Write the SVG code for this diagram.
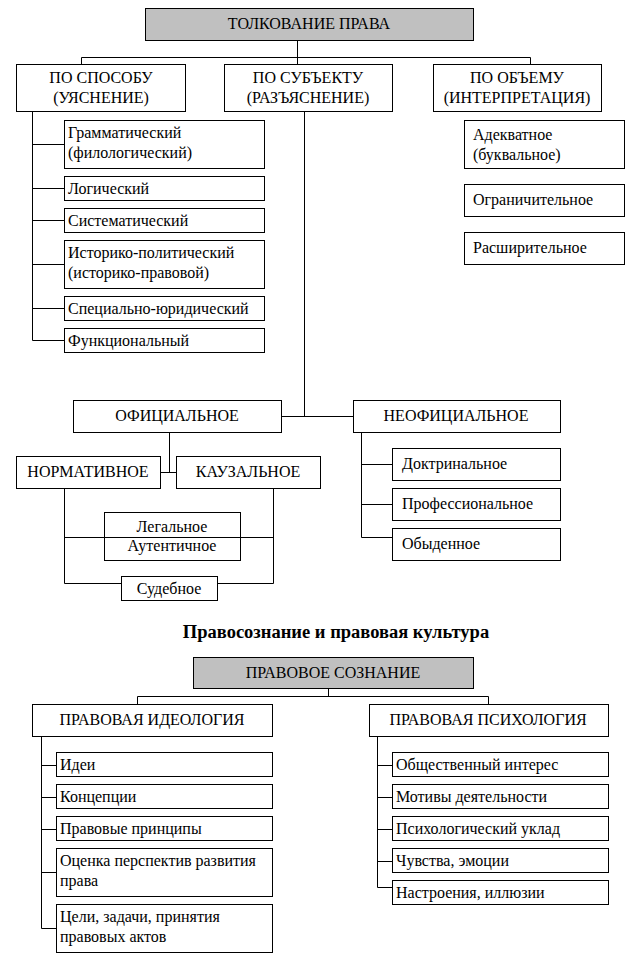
<svg xmlns="http://www.w3.org/2000/svg" width="641" height="961" viewBox="0 0 641 961">
<style>
.b{fill:#fff;stroke:#000;stroke-width:1}
.g{fill:#c0c0c0;stroke:#000;stroke-width:1}
.t{font-family:"Liberation Serif","Times New Roman",serif;font-size:16px;fill:#000}
.m{text-anchor:middle}
.h{font-weight:bold;font-size:18.5px}
.ln{stroke:#000;stroke-width:1;fill:none}
</style>
<rect width="641" height="961" fill="#fff"/>
<g id="connectors" class="ln">
<path d="M297.5 40V64M81.5 57.5H530.5M81.5 57.5V64M530.5 57.5V64"/>
<path d="M32.5 112V340.5M32.5 144.5H64M32.5 188.5H64M32.5 220.5H64M32.5 264.5H64M32.5 308.5H64M32.5 340.5H64"/>
<path d="M304.5 112V416.5M281 416.5H353"/>
<path d="M169.5 432V472.5M161 472.5H176"/>
<path d="M64.5 488V583.5H121M273.5 488V583.5H217"/>
<path d="M361.5 432V537.5M361.5 464.5H392M361.5 504.5H392M361.5 537.5H392"/>
<path d="M328.5 688V696.5M137.5 696.5H488.5M137.5 696.5V704M488.5 696.5V704"/>
<path d="M41.5 737V928.5M41.5 765.5H56M41.5 797.5H56M41.5 829.5H56M41.5 872.5H56M41.5 928.5H56"/>
<path d="M377.5 737V887.5M377.5 765.5H392M377.5 797.5H392M377.5 829.5H392M377.5 861.5H392M377.5 887.5H392"/>
</g>
<g id="n-tolk"><rect class="g" x="145.5" y="8.5" width="328" height="32"/><text class="t m" x="309" y="29">ТОЛКОВАНИЕ ПРАВА</text></g>
<g id="n-sposob"><rect class="b" x="16.5" y="64.5" width="169" height="47"/><text class="t m" x="101" y="83">ПО СПОСОБУ</text><text class="t m" x="101" y="103">(УЯСНЕНИЕ)</text></g>
<g id="n-subekt"><rect class="b" x="224.5" y="64.5" width="168" height="47"/><text class="t m" x="308" y="83">ПО СУБЪЕКТУ</text><text class="t m" x="308" y="103">(РАЗЪЯСНЕНИЕ)</text></g>
<g id="n-obem"><rect class="b" x="433.5" y="64.5" width="168" height="47"/><text class="t m" x="517" y="83">ПО ОБЪЕМУ</text><text class="t m" x="517" y="103">(ИНТЕРПРЕТАЦИЯ)</text></g>
<g id="n-gramm"><rect class="b" x="64.5" y="120.5" width="200" height="48"/><text class="t" x="68" y="138">Грамматический</text><text class="t" x="68" y="158">(филологический)</text></g>
<g id="n-logic"><rect class="b" x="64.5" y="176.5" width="200" height="24"/><text class="t" x="68" y="194">Логический</text></g>
<g id="n-system"><rect class="b" x="64.5" y="208.5" width="200" height="24"/><text class="t" x="68" y="226">Систематический</text></g>
<g id="n-istor"><rect class="b" x="64.5" y="240.5" width="200" height="48"/><text class="t" x="68" y="258">Историко-политический</text><text class="t" x="68" y="278">(историко-правовой)</text></g>
<g id="n-spec"><rect class="b" x="64.5" y="296.5" width="200" height="24"/><text class="t" x="68" y="314">Специально-юридический</text></g>
<g id="n-func"><rect class="b" x="64.5" y="328.5" width="200" height="24"/><text class="t" x="68" y="346">Функциональный</text></g>
<g id="n-adekv"><rect class="b" x="464.5" y="120.5" width="160" height="48"/><text class="t" x="473" y="140">Адекватное</text><text class="t" x="473" y="160">(буквальное)</text></g>
<g id="n-ogran"><rect class="b" x="464.5" y="184.5" width="160" height="32"/><text class="t" x="473" y="205">Ограничительное</text></g>
<g id="n-rasshir"><rect class="b" x="464.5" y="232.5" width="160" height="32"/><text class="t" x="473" y="253">Расширительное</text></g>
<g id="n-ofic"><rect class="b" x="73.5" y="400.5" width="208" height="32"/><text class="t m" x="177" y="421">ОФИЦИАЛЬНОЕ</text></g>
<g id="n-neofic"><rect class="b" x="353.5" y="400.5" width="207" height="32"/><text class="t m" x="456" y="421">НЕОФИЦИАЛЬНОЕ</text></g>
<g id="n-norm"><rect class="b" x="16.5" y="456.5" width="144" height="32"/><text class="t m" x="88" y="477">НОРМАТИВНОЕ</text></g>
<g id="n-kauz"><rect class="b" x="176.5" y="456.5" width="144" height="32"/><text class="t m" x="248" y="477">КАУЗАЛЬНОЕ</text></g>
<g id="n-legal"><rect class="b" x="104.5" y="512.5" width="136" height="48"/><path class="ln" d="M64.5 537.5H273.5"/><text class="t m" x="172" y="532">Легальное</text><text class="t m" x="172" y="551">Аутентичное</text></g>
<g id="n-sud"><rect class="b" x="121.5" y="576.5" width="96" height="24"/><text class="t m" x="169" y="594">Судебное</text></g>
<g id="n-doktr"><rect class="b" x="392.5" y="448.5" width="168" height="32"/><text class="t" x="402" y="469">Доктринальное</text></g>
<g id="n-prof"><rect class="b" x="392.5" y="488.5" width="168" height="32"/><text class="t" x="402" y="509">Профессиональное</text></g>
<g id="n-obyd"><rect class="b" x="392.5" y="528.5" width="168" height="32"/><text class="t" x="402" y="549">Обыденное</text></g>
<text class="t m h" x="336" y="638">Правосознание и правовая культура</text>
<g id="n-soznanie"><rect class="g" x="193.5" y="657.5" width="280" height="31"/><text class="t m" x="333" y="678">ПРАВОВОЕ СОЗНАНИЕ</text></g>
<g id="n-ideol"><rect class="b" x="32.5" y="704.5" width="240" height="32"/><text class="t m" x="152" y="725">ПРАВОВАЯ ИДЕОЛОГИЯ</text></g>
<g id="n-psih"><rect class="b" x="369.5" y="704.5" width="239" height="32"/><text class="t m" x="488" y="725">ПРАВОВАЯ ПСИХОЛОГИЯ</text></g>
<g id="n-idei"><rect class="b" x="56.5" y="752.5" width="216" height="24"/><text class="t" x="60" y="770">Идеи</text></g>
<g id="n-konc"><rect class="b" x="56.5" y="784.5" width="216" height="24"/><text class="t" x="60" y="802">Концепции</text></g>
<g id="n-princ"><rect class="b" x="56.5" y="816.5" width="216" height="24"/><text class="t" x="60" y="834">Правовые принципы</text></g>
<g id="n-ocenka"><rect class="b" x="56.5" y="848.5" width="216" height="48"/><text class="t" x="60" y="866">Оценка перспектив развития</text><text class="t" x="60" y="886">права</text></g>
<g id="n-celi"><rect class="b" x="56.5" y="904.5" width="216" height="48"/><text class="t" x="60" y="922">Цели, задачи, принятия</text><text class="t" x="60" y="942">правовых актов</text></g>
<g id="n-interes"><rect class="b" x="392.5" y="752.5" width="216" height="24"/><text class="t" x="396" y="770">Общественный интерес</text></g>
<g id="n-motiv"><rect class="b" x="392.5" y="784.5" width="216" height="24"/><text class="t" x="396" y="802">Мотивы деятельности</text></g>
<g id="n-uklad"><rect class="b" x="392.5" y="816.5" width="216" height="24"/><text class="t" x="396" y="834">Психологический уклад</text></g>
<g id="n-chuv"><rect class="b" x="392.5" y="848.5" width="216" height="24"/><text class="t" x="396" y="866">Чувства, эмоции</text></g>
<g id="n-nastr"><rect class="b" x="392.5" y="880.5" width="216" height="24"/><text class="t" x="396" y="898">Настроения, иллюзии</text></g>
</svg>
